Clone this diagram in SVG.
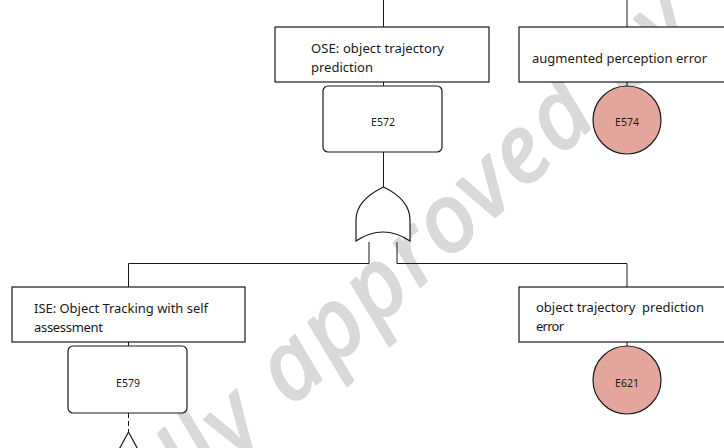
<svg xmlns="http://www.w3.org/2000/svg" width="724" height="448" viewBox="0 0 724 448">
  <style>
    .wire { fill: none; stroke: #1a1a1a; stroke-width: 1; }
    .box { fill: #ffffff; stroke: #1a1a1a; stroke-width: 1.2; }
    .basic { fill: #e4a59c; stroke: #1a1a1a; stroke-width: 1.2; }
    .gate { fill: #ffffff; stroke: #1a1a1a; stroke-width: 1.2; }
    .label { font-family: "Noto Sans", "Open Sans", sans-serif; font-size: 13px; fill: #1a1a1a; white-space: pre; }
    .id { font-family: "Noto Sans", "Open Sans", sans-serif; font-size: 10.5px; fill: #1a1a1a; text-anchor: middle; }
    .mark { font-family: "Noto Sans", "Open Sans", sans-serif; font-size: 94px; font-style: italic; font-weight: 400; letter-spacing: 4px; fill: #d9d9d9; stroke: #d9d9d9; stroke-width: 2.5; stroke-linejoin: round; }
  </style>

  <!-- background stamp -->
  <text class="mark" transform="translate(194,498) rotate(-43)">lly approved by</text>

  <!-- connectors -->
  <g id="connectors">
    <path class="wire" d="M383.5,0 V27"/>
    <path class="wire" d="M627,0 V27"/>
    <path class="wire" d="M383.5,82 V86"/>
    <path class="wire" d="M627,82 V86"/>
    <path class="wire" d="M383.5,152 V187"/>
    <path class="wire" d="M369,242 V263.5 H128.5 V287"/>
    <path class="wire" d="M397,242 V263.5 H627 V287"/>
    <path class="wire" d="M128.5,342 V346"/>
    <path class="wire" d="M627,342 V346"/>
    <path class="wire" d="M128.5,413 V432" stroke-dasharray="5,3"/>
  </g>

  <!-- top event -->
  <g id="ose">
    <rect class="box" x="275" y="27" width="214" height="55"/>
    <text class="label" x="311" y="53" textLength="133">OSE: object trajectory</text>
    <text class="label" x="311" y="72" textLength="62">prediction</text>
  </g>
  <g id="e572">
    <rect class="box" x="323" y="86" width="119" height="66" rx="5"/>
    <text class="id" x="383" y="126">E572</text>
  </g>

  <!-- OR gate -->
  <g id="or-gate">
    <path class="gate" d="M383.5,187 C371,193 356,203 356,220 V241 Q383,223 410,241 V220 C410,203 396,193 383.5,187 Z"/>
  </g>

  <!-- augmented perception error -->
  <g id="augmented">
    <rect class="box" x="519" y="27" width="216" height="55"/>
    <text class="label" x="532" y="63" textLength="175">augmented perception error</text>
  </g>
  <g id="e574">
    <circle class="basic" cx="627" cy="120" r="34"/>
    <text class="id" x="627" y="126">E574</text>
  </g>

  <!-- object tracking -->
  <g id="ise">
    <rect class="box" x="12" y="287" width="233" height="55"/>
    <text class="label" x="34" y="313" textLength="174">ISE: Object Tracking with self</text>
    <text class="label" x="34" y="332" textLength="69">assessment</text>
  </g>
  <g id="e579">
    <rect class="box" x="68" y="346" width="119" height="67" rx="5"/>
    <text class="id" x="128" y="386.5">E579</text>
  </g>
  <g id="transfer">
    <path class="gate" d="M128.5,432 L141,455 H116 Z"/>
  </g>

  <!-- trajectory prediction error -->
  <g id="otp-error">
    <rect class="box" x="519" y="287" width="216" height="55"/>
    <text class="label" x="536" y="312" textLength="168">object trajectory  prediction</text>
    <text class="label" x="536" y="331" textLength="28">error</text>
  </g>
  <g id="e621">
    <circle class="basic" cx="627" cy="380" r="34"/>
    <text class="id" x="627" y="386.5">E621</text>
  </g>
</svg>
